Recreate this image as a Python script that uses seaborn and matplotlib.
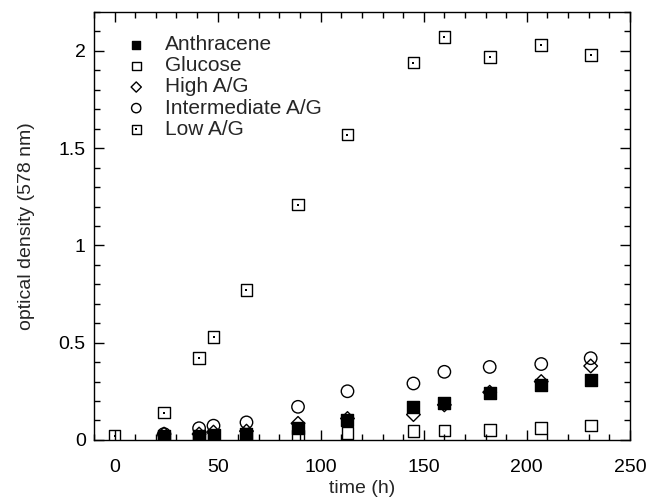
import matplotlib
matplotlib.use('Agg')
import matplotlib.pyplot as plt
from matplotlib.legend_handler import HandlerTuple
from matplotlib.ticker import MultipleLocator
import seaborn as sns

# time points (h)
time_all = [0, 24, 41, 48, 64, 89, 113, 145, 160, 182, 207, 231]
time_cult = [24, 41, 48, 64, 89, 113, 145, 160, 182, 207, 231]

anthracene = [0.02, 0.02, 0.025, 0.03, 0.06, 0.10, 0.17, 0.19, 0.24, 0.28, 0.31]
glucose = [0.01, 0.01, 0.015, 0.02, 0.02, 0.035, 0.045, 0.048, 0.05, 0.06, 0.073]
high_ag = [0.03, 0.03, 0.04, 0.045, 0.085, 0.11, 0.13, 0.18, 0.245, 0.30, 0.38]
inter_ag = [0.03, 0.06, 0.073, 0.09, 0.17, 0.25, 0.29, 0.35, 0.375, 0.39, 0.42]
low_ag = [0.02, 0.14, 0.42, 0.53, 0.77, 1.21, 1.57, 1.94, 2.07, 1.97, 2.03, 1.98]

sns.set_style('ticks')
plt.rcParams['font.family'] = ['Liberation Sans', 'DejaVu Sans']

fig = plt.figure(figsize=(6.48, 5.01), dpi=100)
ax = fig.add_axes([0.145, 0.122, 0.827, 0.854])

common = dict(ax=ax, edgecolor='black', linewidth=1.0, zorder=3)

sns.scatterplot(x=time_cult, y=glucose, marker='s', s=70, facecolor='none',
                label='Glucose', **common)
sns.scatterplot(x=time_cult, y=high_ag, marker='D', s=48, facecolor='none',
                label='High A/G', **common)
sns.scatterplot(x=time_cult, y=inter_ag, marker='o', s=80, facecolor='none',
                label='Intermediate A/G', **common)
sns.scatterplot(x=time_cult, y=anthracene, marker='s', s=70, color='black',
                label='Anthracene', **common)
sns.scatterplot(x=time_all, y=low_ag, marker='s', s=70, facecolor='none',
                label='Low A/G', **common)
sns.scatterplot(x=time_all, y=low_ag, marker='s', s=2, color='black',
                linewidth=0, ax=ax, zorder=4)
dot_handle = ax.collections[-1]

ax.set_xlim(-10, 250)
ax.set_ylim(0, 2.2)
ax.xaxis.set_major_locator(MultipleLocator(50))
ax.xaxis.set_minor_locator(MultipleLocator(10))
ax.yaxis.set_minor_locator(MultipleLocator(0.1))
ax.set_yticks([0, 0.5, 1, 1.5, 2])
ax.set_yticklabels(['0', '0.5', '1', '1.5', '2'])
ax.tick_params(which='both', direction='in', top=True, right=True,
               labelsize=14, width=1, colors='black')
ax.tick_params(which='major', length=7)
ax.tick_params(which='minor', length=4)
ax.tick_params(axis='x', which='major', pad=14)
ax.tick_params(axis='y', which='major', pad=6)
for sp in ax.spines.values():
    sp.set_linewidth(1)
    sp.set_color('black')

ax.set_xlabel('time (h)', fontsize=14, labelpad=3)
ax.set_ylabel('optical density (578 nm)', fontsize=14, labelpad=17)

handles, labels = ax.get_legend_handles_labels()
hmap = dict(zip(labels, handles))
order = ['Anthracene', 'Glucose', 'High A/G', 'Intermediate A/G']
leg_handles = [hmap[k] for k in order] + [(hmap['Low A/G'], dot_handle)]
leg_labels = order + ['Low A/G']
ax.legend(leg_handles, leg_labels, loc='upper left', bbox_to_anchor=(0.04, 0.965),
          frameon=False, fontsize=15, handletextpad=0.8, labelspacing=0.1,
          markerscale=0.75, handlelength=1.2, borderaxespad=0,
          handler_map={tuple: HandlerTuple(ndivide=1, pad=0)})

fig.savefig('out.png', dpi=100)
